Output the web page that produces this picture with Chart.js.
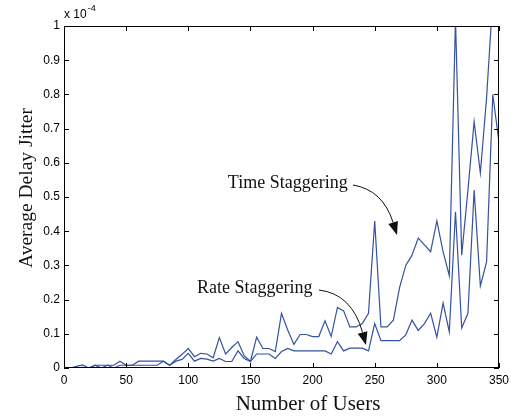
<!DOCTYPE html>
<html>
<head>
<meta charset="utf-8">
<script src="https://cdn.jsdelivr.net/npm/chart.js@4.4.1/dist/chart.umd.min.js"></script>
<style>
  html, body { margin: 0; padding: 0; background: #fff; }
  #wrap { width: 511px; height: 416px; position: relative; }
</style>
</head>
<body>
<div id="wrap"><canvas id="jitterChart"></canvas></div>
<script>
// Number of users (x axis), one sample every 5 users
const users = [];
for (let u = 0; u <= 350; u += 5) users.push(u);

// Average delay jitter, in units of 1e-4
const timeStaggering = [
    0, 0, 0.005, 0.009, 0, 0.008, 0.008, 0.008, 0.008, 0.02,
    0.008, 0.008, 0.02, 0.02, 0.02, 0.02, 0.02, 0.008, 0.025, 0.04,
    0.057, 0.033, 0.043, 0.041, 0.03, 0.089, 0.041, 0.06, 0.077, 0.036,
    0.019, 0.09, 0.057, 0.057, 0.048, 0.16, 0.111, 0.069, 0.098, 0.098,
    0.092, 0.092, 0.138, 0.092, 0.177, 0.167, 0.12, 0.12, 0.13, 0.16,
    0.43, 0.12, 0.12, 0.14, 0.235, 0.30, 0.33, 0.38, 0.36, 0.34,
    0.43, 0.34, 0.27, 1.02, 0.33, 0.52, 0.72, 0.57, 0.79, 1.08,
    1.2
];
const rateStaggering = [
    0, 0, 0, 0.002, 0, 0.008, 0, 0.008, 0, 0.008,
    0.008, 0.008, 0.008, 0.008, 0.008, 0.008, 0.02, 0.008, 0.02, 0.025,
    0.043, 0.02, 0.028, 0.026, 0.02, 0.028, 0.019, 0.019, 0.05, 0.028,
    0.019, 0.041, 0.041, 0.041, 0.028, 0.048, 0.057, 0.05, 0.05, 0.05,
    0.05, 0.05, 0.05, 0.041, 0.077, 0.05, 0.058, 0.058, 0.058, 0.05,
    0.13, 0.08, 0.08, 0.08, 0.08, 0.097, 0.14, 0.11, 0.13, 0.16,
    0.09, 0.19, 0.106, 0.457, 0.117, 0.16, 0.52, 0.24, 0.31, 0.80,
    0.66
];

// Tick values on both axes
const xTicks = [0, 50, 100, 150, 200, 250, 300, 350];
const yTicks = [0, 0.1, 0.2, 0.3, 0.4, 0.5, 0.6, 0.7, 0.8, 0.9, 1];

const lineColor = '#3452a2';
const serif = '"Liberation Serif", "DejaVu Serif", serif';
const sans = '"Liberation Sans", Arial, sans-serif';

// Box, inward tick marks, axis titles, exponent label and curved callouts
const framePlugin = {
    id: 'frame',
    afterDraw(chart) {
        const ctx = chart.ctx;
        const a = chart.chartArea;
        const xs = chart.scales.x;
        const ys = chart.scales.y;
        const tl = 5;
        ctx.save();
        ctx.strokeStyle = '#000';
        ctx.lineWidth = 1;
        ctx.strokeRect(a.left + 0.5, a.top + 0.5, a.right - a.left - 1, a.bottom - a.top - 1);
        ctx.beginPath();
        xTicks.forEach(v => {
            const px = Math.round(xs.getPixelForValue(v)) + 0.5;
            ctx.moveTo(px, a.bottom); ctx.lineTo(px, a.bottom - tl);
            ctx.moveTo(px, a.top); ctx.lineTo(px, a.top + tl);
        });
        yTicks.forEach(v => {
            const py = Math.round(ys.getPixelForValue(v)) + 0.5;
            ctx.moveTo(a.left, py); ctx.lineTo(a.left + tl, py);
            ctx.moveTo(a.right, py); ctx.lineTo(a.right - tl, py);
        });
        ctx.stroke();

        // exponent above the y axis
        ctx.fillStyle = '#000';
        ctx.textBaseline = 'alphabetic';
        ctx.textAlign = 'left';
        ctx.font = '12px ' + sans;
        ctx.fillText('x 10', a.left, a.top - 8);
        const w = ctx.measureText('x 10').width;
        ctx.font = '9px ' + sans;
        ctx.fillText('-4', a.left + w + 1, a.top - 15);

        // axis titles
        ctx.fillStyle = '#111';
        ctx.textAlign = 'center';
        ctx.textBaseline = 'middle';
        ctx.font = '21px ' + serif;
        ctx.fillText('Number of Users', 308, 404);
        ctx.save();
        ctx.translate(27, 188);
        ctx.rotate(-Math.PI / 2);
        ctx.font = '19.5px ' + serif;
        ctx.fillText('Average Delay Jitter', 0, 0);
        ctx.restore();

        // callouts
        ctx.font = '18px ' + serif;
        ctx.fillText('Time Staggering', xs.getPixelForValue(180), ys.getPixelForValue(0.541));
        ctx.fillText('Rate Staggering', xs.getPixelForValue(153.5), ys.getPixelForValue(0.234));

        drawArrow(ctx, 353, 185, 383, 190, 397, 235);
        drawArrow(ctx, 319, 290, 352, 294, 366, 345);
        ctx.restore();
    }
};

function drawArrow(ctx, x0, y0, cx, cy, x1, y1) {
    ctx.strokeStyle = '#111';
    ctx.fillStyle = '#111';
    ctx.lineWidth = 1;
    const ang = Math.atan2(y1 - cy, x1 - cx);
    const len = 13, half = 5;
    const bx = x1 - len * Math.cos(ang);
    const by = y1 - len * Math.sin(ang);
    ctx.beginPath();
    ctx.moveTo(x0, y0);
    ctx.quadraticCurveTo(cx, cy, bx, by);
    ctx.stroke();
    ctx.beginPath();
    ctx.moveTo(x1, y1);
    ctx.lineTo(bx + half * Math.sin(ang), by - half * Math.cos(ang));
    ctx.lineTo(bx - half * Math.sin(ang), by + half * Math.cos(ang));
    ctx.closePath();
    ctx.fill();
}

// keep the plot box fixed: no extra room for overhanging tick labels
function noLabelPadding(s) {
    s.paddingLeft = 0;
    s.paddingRight = 0;
    s.paddingTop = 0;
    s.paddingBottom = 0;
}

const ctx = document.getElementById('jitterChart');
new Chart(ctx, {
    type: 'line',
    data: {
        labels: users,
        datasets: [
            {
                label: 'Time Staggering',
                data: users.map((u, i) => ({ x: u, y: timeStaggering[i] })),
                borderColor: lineColor,
                borderWidth: 1.2,
                pointRadius: 0,
                tension: 0,
                clip: 0
            },
            {
                label: 'Rate Staggering',
                data: users.map((u, i) => ({ x: u, y: rateStaggering[i] })),
                borderColor: lineColor,
                borderWidth: 1.2,
                pointRadius: 0,
                tension: 0,
                clip: 0
            }
        ]
    },
    options: {
        responsive: true,
        maintainAspectRatio: false,
        animation: false,
        layout: { padding: { top: 26, right: 12, left: 0, bottom: 0 } },
        plugins: {
            legend: { display: false },
            tooltip: { enabled: false }
        },
        scales: {
            x: {
                type: 'linear',
                min: 0,
                max: 350,
                grid: { display: false, drawTicks: false },
                border: { display: false },
                afterFit: s => { s.height = 48; noLabelPadding(s); },
                afterBuildTicks: s => { s.ticks = xTicks.map(v => ({ value: v })); },
                ticks: {
                    autoSkip: false,
                    maxRotation: 0,
                    padding: 5,
                    color: '#000',
                    font: { family: sans, size: 12 }
                }
            },
            y: {
                min: 0,
                max: 1,
                grid: { display: false, drawTicks: false },
                border: { display: false },
                afterFit: s => { s.width = 64; noLabelPadding(s); },
                afterBuildTicks: s => { s.ticks = yTicks.map(v => ({ value: v })); },
                ticks: {
                    autoSkip: false,
                    padding: 4,
                    color: '#000',
                    font: { family: sans, size: 12 },
                    callback: v => String(+v.toFixed(1))
                }
            }
        }
    },
    plugins: [framePlugin]
});
</script>
</body>
</html>
